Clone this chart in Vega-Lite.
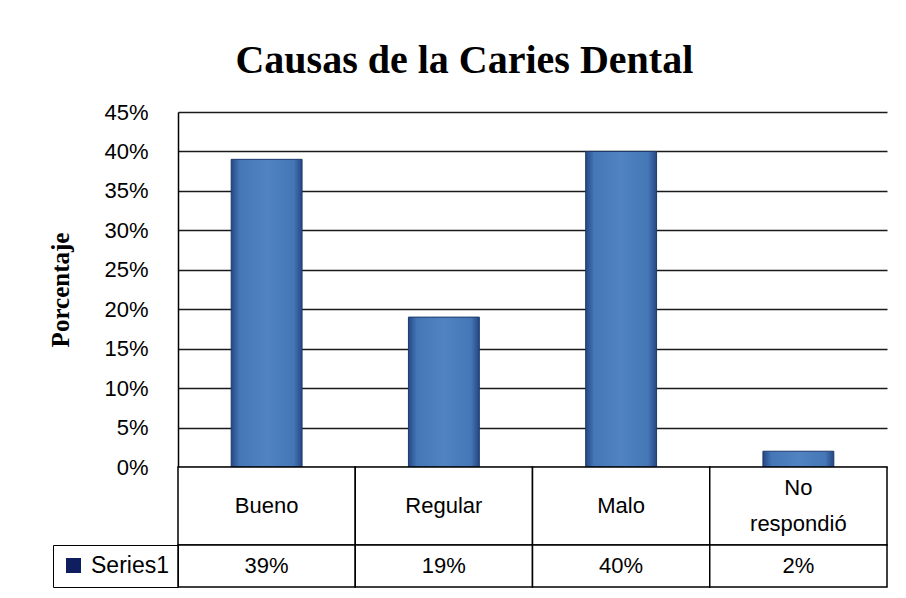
{
  "$schema": "https://vega.github.io/schema/vega-lite/v6.json",
  "padding": {"left": 48, "top": 41, "right": 19, "bottom": 7},
  "background": "white",
  "title": {
    "text": "Causas de la Caries Dental",
    "font": "Liberation Serif",
    "fontSize": 40,
    "fontWeight": "bold",
    "color": "black",
    "anchor": "middle",
    "frame": "bounds",
    "offset": 20,
    "dx": -4
  },
  "datasets": {
    "d": [
      {"categoria": "Bueno", "valor": 0.39, "serie": "Series1"},
      {"categoria": "Regular", "valor": 0.19, "serie": "Series1"},
      {"categoria": "Malo", "valor": 0.40, "serie": "Series1"},
      {"categoria": "No respondió", "valor": 0.02, "serie": "Series1"}
    ]
  },
  "data": {"name": "d"},
  "spacing": 0,
  "bounds": "flush",
  "resolve": {"legend": {"color": "independent"}},
  "vconcat": [
    {
      "width": 709,
      "height": 355,
      "mark": {
        "type": "bar",
        "fill": {
          "gradient": "linear",
          "x1": 0, "y1": 0, "x2": 1, "y2": 0,
          "stops": [
            {"offset": 0, "color": "#254883"},
            {"offset": 0.12, "color": "#4577b7"},
            {"offset": 0.5, "color": "#5083c0"},
            {"offset": 0.88, "color": "#4577b7"},
            {"offset": 1, "color": "#254883"}
          ]
        },
        "stroke": "#1d3a6e",
        "strokeWidth": 1
      },
      "encoding": {
        "x": {
          "field": "categoria",
          "type": "nominal",
          "sort": null,
          "scale": {"paddingInner": 0.6, "paddingOuter": 0.3},
          "axis": null
        },
        "y": {
          "field": "valor",
          "type": "quantitative",
          "scale": {"domain": [0, 0.45], "nice": false},
          "axis": {
            "values": [0, 0.05, 0.1, 0.15, 0.2, 0.25, 0.3, 0.35, 0.4, 0.45],
            "format": ".0%",
            "title": "Porcentaje",
            "titleFont": "Liberation Serif",
            "titleFontSize": 25,
            "titleFontWeight": "bold",
            "titleColor": "black",
            "titlePadding": 30,
            "labelFont": "Liberation Sans",
            "labelFontSize": 22,
            "labelColor": "black",
            "labelPadding": 30,
            "ticks": false,
            "domainColor": "black",
            "domainWidth": 1.5,
            "grid": true,
            "gridColor": "#1a1a1a",
            "gridWidth": 1.5,
            "gridOpacity": 1
          }
        }
      }
    },
    {
      "width": 709,
      "height": 78,
      "layer": [
        {
          "mark": {"type": "rect", "fill": "white", "stroke": "black", "strokeWidth": 1.5},
          "encoding": {
            "x": {
              "field": "categoria",
              "type": "nominal",
              "sort": null,
              "scale": {"paddingInner": 0, "paddingOuter": 0},
              "axis": null
            }
          }
        },
        {
          "transform": [{"filter": "indexof(datum.categoria, ' ') < 0"}],
          "mark": {"type": "text", "font": "Liberation Sans", "fontSize": 22, "color": "black"},
          "encoding": {
            "x": {"field": "categoria", "type": "nominal", "sort": null, "axis": null},
            "text": {"field": "categoria"}
          }
        },
        {
          "transform": [{"filter": "indexof(datum.categoria, ' ') >= 0"}],
          "mark": {"type": "text", "font": "Liberation Sans", "fontSize": 22, "lineBreak": " ", "lineHeight": 36, "dy": -18, "color": "black"},
          "encoding": {
            "x": {"field": "categoria", "type": "nominal", "sort": null, "axis": null},
            "text": {"field": "categoria"}
          }
        }
      ]
    },
    {
      "width": 709,
      "height": 42,
      "layer": [
        {
          "mark": {"type": "rect", "fill": "white", "stroke": "black", "strokeWidth": 1.5},
          "encoding": {
            "x": {
              "field": "categoria",
              "type": "nominal",
              "sort": null,
              "scale": {"paddingInner": 0, "paddingOuter": 0},
              "axis": null
            }
          }
        },
        {
          "mark": {"type": "text", "font": "Liberation Sans", "fontSize": 22, "color": "black"},
          "encoding": {
            "x": {"field": "categoria", "type": "nominal", "sort": null, "axis": null},
            "text": {"field": "valor", "type": "quantitative", "format": ".0%"}
          }
        },
        {
          "mark": {"type": "square", "opacity": 0},
          "encoding": {
            "x": {"field": "categoria", "type": "nominal", "sort": null, "axis": null},
            "color": {
              "field": "serie",
              "type": "nominal",
              "scale": {"range": ["#0e1e5e"]},
              "legend": {
                "orient": "left",
                "title": null,
                "offset": 0,
                "strokeColor": "black",
                "padding": 9,
                "symbolType": "square",
                "symbolSize": 225,
                "symbolOpacity": 1,
                "symbolStrokeWidth": 0,
                "labelFont": "Liberation Sans",
                "labelFontSize": 23,
                "labelColor": "black",
                "labelOffset": 6
              }
            }
          }
        }
      ]
    }
  ],
  "config": {
    "view": {"stroke": null},
    "font": "Liberation Sans"
  }
}
